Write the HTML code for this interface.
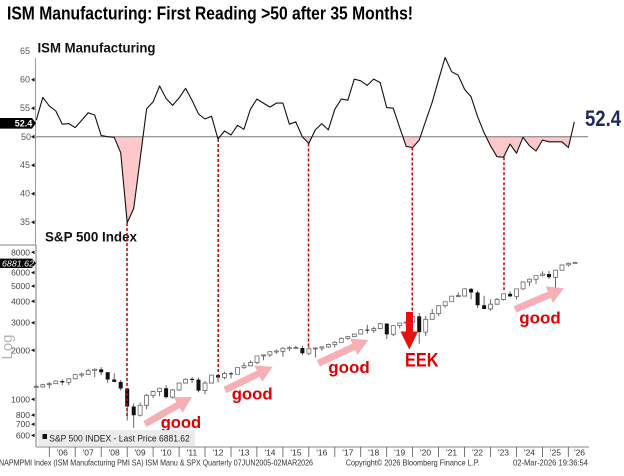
<!DOCTYPE html>
<html><head><meta charset="utf-8"><style>
html,body{margin:0;padding:0;background:#fff;}
svg{display:block;}
text{font-family:"Liberation Sans",Arial,sans-serif;}
</style></head><body>
<svg width="624" height="476" viewBox="0 0 624 476" xmlns="http://www.w3.org/2000/svg">
<rect width="624" height="476" fill="#fff"/>
<!-- Title -->
<text x="7" y="19.5" font-size="18" font-weight="bold" fill="#000" textLength="406" lengthAdjust="spacingAndGlyphs">ISM Manufacturing: First Reading &gt;50 after 35 Months!</text>

<!-- Top panel axis -->
<line x1="35.5" y1="58" x2="35.5" y2="245" stroke="#9a9a9a" stroke-width="1"/>
<line x1="0" y1="245" x2="36" y2="245" stroke="#8a8a8a" stroke-width="1"/>
<g font-size="9" fill="#555" text-anchor="end">
<text x="30" y="54.2">65</text>
<text x="30" y="82.7">60</text>
<text x="30" y="111.2">55</text>
<text x="30" y="168.2">45</text>
<text x="30" y="196.7">40</text>
<text x="30" y="225.2">35</text>
</g>
<g fill="#111">
<polygon points="31,79.7 34.5,77.7 34.5,81.7"/>
<polygon points="31,108.2 34.5,106.2 34.5,110.2"/>
<polygon points="31,165.2 34.5,163.2 34.5,167.2"/>
<polygon points="31,193.7 34.5,191.7 34.5,195.7"/>
<polygon points="31,222.2 34.5,220.2 34.5,224.2"/>
</g>
<text x="37.5" y="52.7" font-size="14" font-weight="bold" fill="#111" textLength="118" lengthAdjust="spacingAndGlyphs">ISM Manufacturing</text>

<!-- ISM fill below 50 -->
<defs><clipPath id="below"><rect x="30" y="136.7" width="570" height="120"/></clipPath></defs>
<polygon clip-path="url(#below)" fill="#fcc8ca" points="36.3,120.2 42.8,97.4 49.3,105.9 55.8,111.0 62.3,124.2 68.8,123.6 75.2,127.6 81.7,120.2 88.2,112.8 94.7,115.0 101.2,135.6 107.7,136.7 114.2,137.3 120.7,152.7 127.2,222.8 133.7,208.5 140.1,159.5 146.6,108.8 153.1,101.9 159.6,86.0 166.1,98.5 172.6,105.4 179.1,97.9 185.6,88.3 192.0,100.2 198.5,113.9 205.0,119.0 211.5,116.2 218.0,139.0 224.5,131.0 231.0,135.0 237.5,125.3 243.9,129.3 250.4,109.3 256.9,99.1 263.4,103.1 269.9,107.1 276.4,103.1 282.9,103.1 289.4,124.2 295.8,121.9 302.3,136.7 308.8,143.5 315.3,129.9 321.8,123.6 328.3,129.9 334.8,109.3 341.3,99.1 347.8,100.2 354.3,79.1 360.7,80.8 367.2,85.4 373.7,79.1 380.2,82.6 386.7,107.6 393.2,108.2 399.7,127.6 406.2,146.4 412.7,147.5 419.2,140.1 425.6,121.3 432.1,102.5 438.6,79.7 445.1,57.5 451.6,71.7 458.1,75.1 464.6,89.4 471.1,96.8 477.6,116.7 484.1,132.7 490.5,145.8 497.0,156.7 503.5,157.2 510.0,144.1 516.5,153.2 523.0,137.3 529.5,145.8 536.0,151.0 542.5,140.1 549.0,141.8 555.4,141.8 561.9,141.8 568.4,147.5 574.3,121.9 574.3,136.7 36.3,136.7"/>
<line x1="36" y1="136.7" x2="588" y2="136.7" stroke="#777" stroke-width="1"/>
<polyline fill="none" stroke="#111" stroke-width="1.1" stroke-linejoin="round" points="36.3,120.2 42.8,97.4 49.3,105.9 55.8,111.0 62.3,124.2 68.8,123.6 75.2,127.6 81.7,120.2 88.2,112.8 94.7,115.0 101.2,135.6 107.7,136.7 114.2,137.3 120.7,152.7 127.2,222.8 133.7,208.5 140.1,159.5 146.6,108.8 153.1,101.9 159.6,86.0 166.1,98.5 172.6,105.4 179.1,97.9 185.6,88.3 192.0,100.2 198.5,113.9 205.0,119.0 211.5,116.2 218.0,139.0 224.5,131.0 231.0,135.0 237.5,125.3 243.9,129.3 250.4,109.3 256.9,99.1 263.4,103.1 269.9,107.1 276.4,103.1 282.9,103.1 289.4,124.2 295.8,121.9 302.3,136.7 308.8,143.5 315.3,129.9 321.8,123.6 328.3,129.9 334.8,109.3 341.3,99.1 347.8,100.2 354.3,79.1 360.7,80.8 367.2,85.4 373.7,79.1 380.2,82.6 386.7,107.6 393.2,108.2 399.7,127.6 406.2,146.4 412.7,147.5 419.2,140.1 425.6,121.3 432.1,102.5 438.6,79.7 445.1,57.5 451.6,71.7 458.1,75.1 464.6,89.4 471.1,96.8 477.6,116.7 484.1,132.7 490.5,145.8 497.0,156.7 503.5,157.2 510.0,144.1 516.5,153.2 523.0,137.3 529.5,145.8 536.0,151.0 542.5,140.1 549.0,141.8 555.4,141.8 561.9,141.8 568.4,147.5 574.3,121.9"/>

<!-- 52.4 tags -->
<polygon points="0,118 32,118 36,123.3 32,128.6 0,128.6" fill="#000"/>
<text x="23.5" y="126.6" font-size="9" font-weight="bold" fill="#fff" text-anchor="middle">52.4</text>
<polygon points="0,131.8 30,131.8 34,136.7 30,141.6 0,141.6" fill="#fff" opacity="0"/>
<text x="31" y="140" font-size="9" fill="#555" text-anchor="end">50</text>
<polygon points="31,136.7 34.5,134.7 34.5,138.7" fill="#111"/>
<text x="585" y="126" font-size="22" font-weight="bold" fill="#1c2a5e" textLength="36" lengthAdjust="spacingAndGlyphs">52.4</text>

<!-- Bottom panel axes -->
<line x1="36" y1="245" x2="36" y2="447" stroke="#777" stroke-width="1"/>
<line x1="36" y1="447" x2="589" y2="447" stroke="#888" stroke-width="1"/>
<text x="45" y="241.7" font-size="14" font-weight="bold" fill="#111" textLength="92" lengthAdjust="spacingAndGlyphs">S&amp;P 500 Index</text>
<g font-size="8.5" fill="#444" text-anchor="end">
<text x="30" y="255.3">8000</text>
<text x="30" y="275.6">6000</text>
<text x="30" y="289.1">5000</text>
<text x="30" y="304.3">4000</text>
<text x="30" y="325.7">3000</text>
<text x="30" y="353.3">2000</text>
<text x="30" y="402.3">1000</text>
<text x="30" y="418.1">800</text>
<text x="30" y="427.2">700</text>
<text x="30" y="438.4">600</text>
</g>
<g fill="#111">
<polygon points="31,252.3 34.5,250.5 34.5,254.1"/>
<polygon points="31,272.6 34.5,270.8 34.5,274.4"/>
<polygon points="31,286.1 34.5,284.3 34.5,287.9"/>
<polygon points="31,301.3 34.5,299.5 34.5,303.1"/>
<polygon points="31,322.7 34.5,320.9 34.5,324.5"/>
<polygon points="31,350.3 34.5,348.5 34.5,352.1"/>
<polygon points="31,399.3 34.5,397.5 34.5,401.1"/>
<polygon points="31,415.1 34.5,413.3 34.5,416.9"/>
<polygon points="31,424.2 34.5,422.4 34.5,426"/>
<polygon points="31,435.4 34.5,433.6 34.5,437.2"/>
</g>
<polygon points="0,258.6 32,258.6 36,263.3 32,268 0,268" fill="#000"/>
<text x="18" y="266.3" font-size="8.5" font-style="italic" fill="#fff" text-anchor="middle" textLength="32" lengthAdjust="spacingAndGlyphs">6881.62</text>
<text transform="translate(12,347) rotate(-90)" font-size="15" fill="#b5b5b5" text-anchor="middle">Log</text>

<!-- Candles -->
<g transform="matrix(1 0 0 1.015 0 -5.99)">
<path fill="none" stroke="#555" stroke-width="0.9" d="M36.3 385.5V387.3M42.8 384.0V387.6M49.3 382.4V388.5M55.8 380.5V384.0M62.3 379.6V385.5M68.8 378.9V385.2M75.2 374.3V379.6M81.7 372.9V377.7M88.2 369.2V374.9M94.7 368.6V377.4M101.2 367.6V375.6M107.7 372.4V383.4M114.2 373.9V382.5M120.7 380.3V390.6M127.2 388.5V420.2M133.7 403.3V427.5M140.1 402.4V416.3M146.6 393.9V409.1M153.1 390.8V397.9M159.6 387.8V396.3M166.1 385.4V398.5M172.6 389.1V398.5M179.1 383.0V390.7M185.6 378.7V383.8M192.1 377.3V383.3M198.5 378.1V392.5M205.0 381.4V394.3M211.5 374.9V383.3M218.0 374.8V382.8M224.5 372.2V379.7M231.0 372.3V378.8M237.5 367.9V374.6M244.0 362.9V369.4M250.5 361.1V366.3M257.0 356.4V364.6M263.5 355.2V360.8M269.9 352.1V357.8M276.4 350.4V354.4M282.9 347.8V357.5M289.4 347.0V351.7M295.9 346.5V349.5M302.4 346.5V355.8M308.9 347.1V355.6M315.4 348.2V358.0M321.9 347.0V351.3M328.4 344.6V348.5M334.8 342.0V348.1M341.3 338.3V343.2M347.8 336.8V340.6M354.3 335.0V337.6M360.8 330.2V335.0M367.3 325.8V334.6M373.8 327.8V334.0M380.3 324.2V330.3M386.8 324.3V339.9M393.3 326.1V337.1M399.7 323.6V329.4M406.2 322.1V327.0M412.7 317.2V326.2M419.2 314.2V344.6M425.7 317.5V336.9M432.2 310.3V320.5M438.7 307.0V317.5M445.2 302.8V308.9M451.7 297.7V303.2M458.2 293.8V298.8M464.6 289.9V298.0M471.1 289.7V300.7M477.6 292.4V309.4M484.1 297.3V310.4M490.6 301.0V312.2M497.1 299.4V306.1M503.6 295.2V301.9M510.1 292.9V298.7M516.6 290.1V301.0M523.1 283.6V291.8M529.5 280.2V287.8M536.0 277.2V285.5M542.5 273.3V278.4M549.0 272.8V280.7M555.5 272.0V289.5M562.0 266.8V272.5M568.5 264.5V268.4M575.0 263.8V266.0"/>
<path fill="#fff" stroke="#6a6a6a" stroke-width="0.8" d="M34.3 386.5h4V387.5h-4ZM40.8 384.9h4V387.1h-4ZM47.3 383.9h4V384.9h-4ZM53.8 381.3h4V383.9h-4ZM66.8 379.1h4V382.6h-4ZM73.2 375.0h4V379.1h-4ZM79.7 374.4h4V375.4h-4ZM86.2 370.9h4V374.8h-4ZM92.7 369.8h4V370.9h-4ZM138.1 405.2h4V415.0h-4ZM144.6 395.4h4V405.2h-4ZM151.1 391.7h4V395.4h-4ZM157.6 388.4h4V391.7h-4ZM170.6 390.1h4V397.2h-4ZM177.1 383.3h4V390.1h-4ZM183.6 379.6h4V383.3h-4ZM203.0 383.3h4V390.7h-4ZM209.5 375.5h4V383.3h-4ZM222.5 373.8h4V377.8h-4ZM235.5 368.0h4V374.6h-4ZM242.0 366.3h4V368.0h-4ZM248.5 363.1h4V366.3h-4ZM255.0 356.5h4V363.1h-4ZM261.5 355.6h4V356.6h-4ZM267.9 352.4h4V355.6h-4ZM274.4 351.7h4V352.7h-4ZM280.9 349.0h4V352.0h-4ZM287.4 348.4h4V349.4h-4ZM293.9 348.3h4V349.3h-4ZM306.9 349.5h4V353.9h-4ZM313.4 348.7h4V349.7h-4ZM319.9 347.7h4V348.9h-4ZM326.4 345.4h4V347.7h-4ZM332.8 343.2h4V345.4h-4ZM339.3 339.4h4V343.2h-4ZM345.8 337.6h4V339.4h-4ZM352.3 335.0h4V337.6h-4ZM358.8 330.8h4V335.0h-4ZM371.8 329.6h4V331.6h-4ZM378.3 324.8h4V329.6h-4ZM391.3 326.7h4V335.3h-4ZM397.7 324.1h4V326.7h-4ZM404.2 323.2h4V324.2h-4ZM410.7 317.6h4V323.3h-4ZM423.7 320.5h4V333.1h-4ZM430.2 314.8h4V320.5h-4ZM436.7 307.1h4V314.8h-4ZM443.2 303.2h4V307.1h-4ZM449.7 297.7h4V303.2h-4ZM456.2 297.1h4V298.1h-4ZM462.6 290.5h4V297.6h-4ZM488.6 305.6h4V310.3h-4ZM495.1 300.9h4V305.6h-4ZM501.6 295.3h4V300.9h-4ZM514.6 290.5h4V297.9h-4ZM521.1 283.7h4V290.5h-4ZM527.5 281.0h4V283.7h-4ZM534.0 277.3h4V281.0h-4ZM540.5 275.9h4V277.3h-4ZM553.5 272.1h4V279.1h-4ZM560.0 266.9h4V272.1h-4ZM566.5 265.3h4V266.9h-4ZM573.0 264.6h4V265.6h-4Z"/>
<path fill="#111" d="M60.3 381.3h4V382.6h-4ZM99.2 369.8h4V372.6h-4ZM105.7 372.6h4V379.8h-4ZM112.2 379.8h4V382.1h-4ZM118.7 382.1h4V388.6h-4ZM125.2 388.6h4V406.4h-4ZM131.7 406.4h4V415.0h-4ZM164.1 388.4h4V397.2h-4ZM190.1 379.2h4V380.3h-4ZM196.5 379.9h4V390.7h-4ZM216.0 375.5h4V377.8h-4ZM229.0 373.7h4V374.7h-4ZM300.4 348.8h4V353.9h-4ZM365.3 330.7h4V331.7h-4ZM384.8 324.8h4V335.3h-4ZM417.2 317.6h4V333.1h-4ZM469.1 290.5h4V294.1h-4ZM475.6 294.1h4V306.6h-4ZM482.1 306.6h4V310.3h-4ZM508.1 295.3h4V297.9h-4ZM547.0 275.9h4V279.1h-4Z"/>
</g>

<!-- Dashed red lines -->
<g stroke="#c40000" stroke-width="1.5" stroke-dasharray="3,2" fill="none">
<line x1="127" y1="223" x2="127" y2="418"/>
<line x1="218.2" y1="139" x2="218.2" y2="377"/>
<line x1="308.5" y1="143.5" x2="308.5" y2="347"/>
<line x1="412.3" y1="147.5" x2="412.3" y2="312"/>
<line x1="504" y1="157.2" x2="504" y2="290"/>
</g>

<!-- Pink arrows -->
<g fill="#f6a7ad" opacity="0.9">
<polygon points="146.7,427.0 179.8,408.0 182.6,412.8 192,397 173.6,397.2 176.4,402.0 143.3,421.0"/>
<polygon points="226.5,393.1 259.8,376.8 262.3,381.8 272.7,366.7 254.4,365.6 256.8,370.6 223.5,386.9"/>
<polygon points="319.8,366.5 355.3,350.0 357.6,354.9 368.3,340 350.0,338.6 352.3,343.6 316.8,360.1"/>
<polygon points="516.4,312.7 550.7,297.9 552.9,303.0 564,288.3 545.7,286.4 547.9,291.5 513.6,306.3"/>
</g>

<!-- EEK arrow -->
<g fill="#e81010">
<rect x="406" y="312" width="7" height="20"/>
<polygon points="400.5,331.5 418,331.5 409.3,349.5"/>
</g>
<g font-weight="bold" fill="#e00000">
<text x="405" y="366.7" font-size="19" textLength="33.5" lengthAdjust="spacingAndGlyphs">EEK</text>
<text x="160.7" y="428" font-size="17" textLength="40.5" lengthAdjust="spacingAndGlyphs">good</text>
<text x="231.7" y="399.5" font-size="17" textLength="41" lengthAdjust="spacingAndGlyphs">good</text>
<text x="328.3" y="373" font-size="17" textLength="41.5" lengthAdjust="spacingAndGlyphs">good</text>
<text x="519.3" y="323.5" font-size="17" textLength="41.5" lengthAdjust="spacingAndGlyphs">good</text>
</g>

<!-- Legend -->
<rect x="38" y="430" width="157" height="16" fill="#e9e9e9" opacity="0.92"/>
<rect x="42.5" y="434" width="4.5" height="5" fill="#111"/>
<text x="49.3" y="441.5" font-size="9.5" fill="#222" textLength="140.5" lengthAdjust="spacingAndGlyphs">S&amp;P 500 INDEX - Last Price 6881.62</text>

<!-- X axis -->
<g stroke="#555" stroke-width="0.8">
<line x1="49.3" y1="447" x2="49.3" y2="457"/><line x1="75.2" y1="447" x2="75.2" y2="457"/><line x1="101.2" y1="447" x2="101.2" y2="457"/><line x1="127.2" y1="447" x2="127.2" y2="457"/><line x1="153.1" y1="447" x2="153.1" y2="457"/><line x1="179.1" y1="447" x2="179.1" y2="457"/><line x1="205.0" y1="447" x2="205.0" y2="457"/><line x1="231.0" y1="447" x2="231.0" y2="457"/><line x1="256.9" y1="447" x2="256.9" y2="457"/><line x1="282.9" y1="447" x2="282.9" y2="457"/><line x1="308.8" y1="447" x2="308.8" y2="457"/><line x1="334.8" y1="447" x2="334.8" y2="457"/><line x1="360.7" y1="447" x2="360.7" y2="457"/><line x1="386.7" y1="447" x2="386.7" y2="457"/><line x1="412.6" y1="447" x2="412.6" y2="457"/><line x1="438.6" y1="447" x2="438.6" y2="457"/><line x1="464.5" y1="447" x2="464.5" y2="457"/><line x1="490.5" y1="447" x2="490.5" y2="457"/><line x1="516.4" y1="447" x2="516.4" y2="457"/><line x1="542.4" y1="447" x2="542.4" y2="457"/><line x1="568.3" y1="447" x2="568.3" y2="457"/>
</g>
<g font-size="8.5" fill="#333" text-anchor="middle">
<text x="62.3" y="455.5">'06</text><text x="88.2" y="455.5">'07</text><text x="114.2" y="455.5">'08</text><text x="140.1" y="455.5">'09</text><text x="166.1" y="455.5">'10</text><text x="192.0" y="455.5">'11</text><text x="218.0" y="455.5">'12</text><text x="244.0" y="455.5">'13</text><text x="269.9" y="455.5">'14</text><text x="295.9" y="455.5">'15</text><text x="321.8" y="455.5">'16</text><text x="347.8" y="455.5">'17</text><text x="373.7" y="455.5">'18</text><text x="399.7" y="455.5">'19</text><text x="425.6" y="455.5">'20</text><text x="451.6" y="455.5">'21</text><text x="477.5" y="455.5">'22</text><text x="503.5" y="455.5">'23</text><text x="529.5" y="455.5">'24</text><text x="555.4" y="455.5">'25</text><text x="579.5" y="455.5">'26</text>
</g>

<!-- Footer -->
<g font-size="8.5" fill="#333">
<text x="-1" y="465.5" textLength="314" lengthAdjust="spacingAndGlyphs">NAPMPMI Index (ISM Manufacturing PMI SA) ISM Manu &amp; SPX Quarterly 07JUN2005-02MAR2026</text>
<text x="345.7" y="465.5" textLength="134" lengthAdjust="spacingAndGlyphs">Copyright© 2026 Bloomberg Finance L.P.</text>
<text x="513" y="465.5" textLength="75" lengthAdjust="spacingAndGlyphs">02-Mar-2026 19:36:54</text>
</g>
</svg>
</body></html>
